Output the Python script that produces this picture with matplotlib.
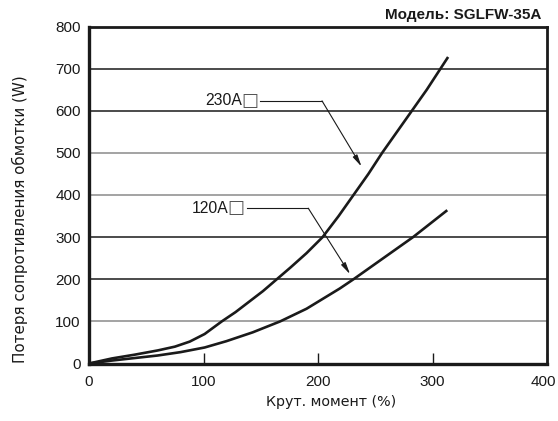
import matplotlib
matplotlib.use('Agg')
import matplotlib.pyplot as plt
from matplotlib.transforms import ScaledTranslation

# данные кривых (крут. момент %, потери W)
torque_230 = [0, 20, 40, 60, 75, 88, 101, 116, 128, 140, 152, 164, 176, 190, 204,
              218, 231, 244, 256, 269, 282, 295, 307, 313]
loss_230 = [0, 12, 21, 31, 40, 52, 70, 100, 122, 147, 172, 200, 228, 262, 300,
            350, 400, 450, 500, 550, 600, 650, 700, 725]

torque_120 = [0, 20, 40, 60, 80, 101, 120, 143, 167, 190, 219, 231, 257, 283, 312]
loss_120 = [0, 7, 13, 19, 27, 38, 53, 74, 100, 130, 178, 200, 250, 300, 362]

y_ticks = [0, 100, 200, 300, 400, 500, 600, 700, 800]
x_ticks = [0, 100, 200, 300, 400]
# сетка в оригинале: часть линий серые
grid_gray = [100, 400, 500]

plt.rcParams['font.family'] = ['Liberation Sans', 'DejaVu Sans']
ink = '#1a1a1a'

fig = plt.figure(figsize=(5.58, 4.21), dpi=100)
ax = fig.add_axes([89 / 558, 1 - 363.5 / 421, (547 - 89) / 558, (363.5 - 26.5) / 421])

for v in y_ticks[1:-1]:
    c = '#8a8a8a' if v in grid_gray else ink
    ax.axhline(v, color=c, lw=1.1, zorder=1)

ax.plot(torque_230, loss_230, color=ink, lw=1.9, zorder=3)
ax.plot(torque_120, loss_120, color=ink, lw=1.9, zorder=3)

ax.set_xlim(0, 400)
ax.set_ylim(0, 800)
ax.set_xticks(x_ticks)
ax.set_yticks(y_ticks)
ax.tick_params(axis='x', direction='in', length=8, width=1, pad=8, labelsize=11, color=ink, labelcolor=ink)
ax.tick_params(axis='y', length=0, pad=6, labelsize=11, labelcolor=ink)
for s in ax.spines.values():
    s.set_linewidth(2)
    s.set_color(ink)
ax.spines['left'].set_linewidth(2.4)
ax.spines['bottom'].set_linewidth(2.4)

# последняя метка "400" чуть левее, чтобы не обрезалась
last = ax.get_xticklabels()[-1]
last.set_transform(last.get_transform() + ScaledTranslation(-4 / 100, 0, fig.dpi_scale_trans))

# подписи со стрелками
def callout(label, text_x, box_x, line_x, y, bend_x, tip_xy):
    ax.text(text_x, y, label, ha='right', va='center', fontsize=11.3, color=ink)
    ax.text(box_x, y, '\u25a1', ha='center', va='center', fontsize=13,
            family='DejaVu Sans', color='#555555')
    ax.plot([line_x, bend_x], [y, y], color=ink, lw=0.8)
    ax.annotate('', xy=tip_xy, xytext=(bend_x, y),
                arrowprops=dict(arrowstyle='-|>,head_length=0.7,head_width=0.15',
                                color=ink, lw=0.8, shrinkA=0, shrinkB=0))

callout('230A', 133.4, 140.2, 149.3, 623.5, 203.5, (238, 467.5))
callout('120A', 121.8, 128.6, 137.7, 368.6, 191.5, (228, 212))

fig.text(541.7 / 558, 1 - 14.5 / 421, 'Модель: SGLFW-35A', ha='right', va='center',
         fontsize=11, fontweight='bold', color=ink)
fig.text(331 / 558, 1 - 402 / 421, 'Крут. момент (%)', ha='center', va='center',
         fontsize=10.3, family='DejaVu Sans', color=ink)
fig.text(20 / 558, 1 - 219.5 / 421, 'Потеря сопротивления обмотки (W)', ha='center', va='center',
         rotation=90, fontsize=10.9, family='DejaVu Sans', color=ink)

fig.savefig('out.png', dpi=100)
